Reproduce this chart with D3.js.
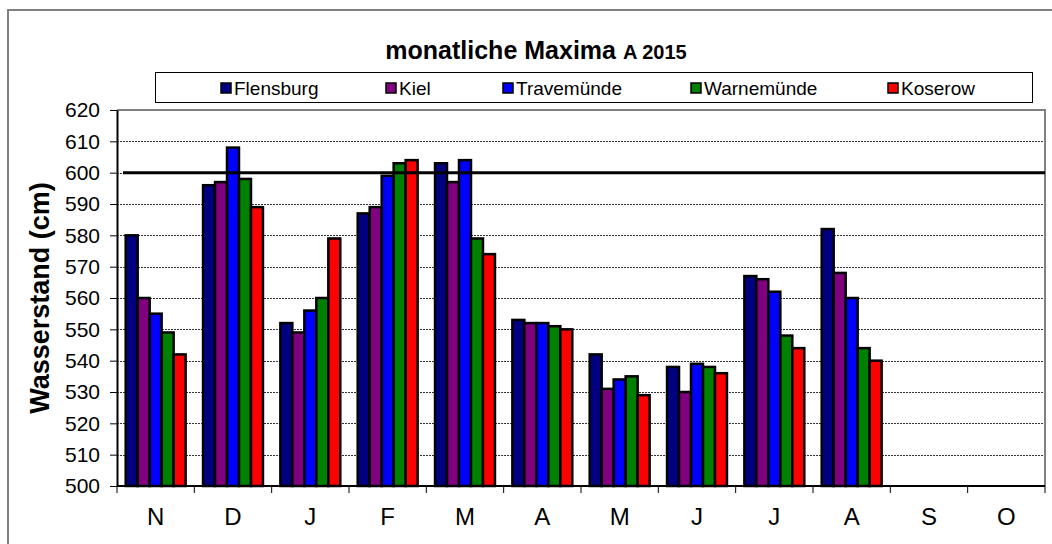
<!DOCTYPE html>
<html>
<head>
<meta charset="utf-8">
<script src="https://cdn.jsdelivr.net/npm/d3@7"></script>
<style>
  body { margin: 0; background: #fff; }
  svg { font-family: "Liberation Sans", Arial, sans-serif; }
</style>
</head>
<body>
<svg id="chart" width="1052" height="544"></svg>
<script>
//data
var months = ["N", "D", "J", "F", "M", "A", "M", "J", "J", "A", "S", "O"];
var stations = ["Flensburg", "Kiel", "Travemünde", "Warnemünde", "Koserow"];
var colors = ["#000080", "#800080", "#0000ff", "#008000", "#ff0000"];
var flensburg  = [580, 596, 552, 587, 603, 553, 542, 538, 567, 582, null, null];
var kiel       = [560, 597, 549, 589, 597, 552, 531, 530, 566, 568, null, null];
var travemunde = [555, 608, 556, 599, 604, 552, 534, 539, 562, 560, null, null];
var warnemunde = [549, 598, 560, 603, 579, 551, 535, 538, 548, 544, null, null];
var koserow    = [542, 589, 579, 604, 574, 550, 529, 536, 544, 540, null, null];
var yTicks = [500, 510, 520, 530, 540, 550, 560, 570, 580, 590, 600, 610, 620];
var markLevel = 600;

var series = [flensburg, kiel, travemunde, warnemunde, koserow];

//plot area
var plot = {left: 117, right: 1045, top: 110, bottom: 486};

var svg = d3.select("#chart");

//outer chart border
svg.append("path")
	.attr("d", "M8,560 L8,10 L1060,10")
	.attr("fill", "none")
	.attr("stroke", "#808080")
	.attr("stroke-width", 2);

var x = d3.scaleBand()
	.domain(d3.range(months.length))
	.range([plot.left, plot.right])
	.paddingInner(0.225)
	.paddingOuter(0.1125);

var xCat = d3.scaleBand()
	.domain(d3.range(months.length))
	.range([plot.left, plot.right]);

var xSub = d3.scaleBand()
	.domain(d3.range(stations.length))
	.range([0, x.bandwidth()]);

var y = d3.scaleLinear()
	.domain([500, 620])
	.range([plot.bottom, plot.top]);

//gridlines
svg.append("g")
	.selectAll("line")
	.data(yTicks.slice(1, -1))
	.enter()
	.append("line")
	.attr("x1", plot.left)
	.attr("x2", plot.right)
	.attr("y1", function(d) { return Math.round(y(d)) + 0.5; })
	.attr("y2", function(d) { return Math.round(y(d)) + 0.5; })
	.attr("stroke", "#333")
	.attr("stroke-width", 1)
	.attr("stroke-dasharray", "2,1");

//plot area border (gray top and right)
svg.append("path")
	.attr("d", "M" + plot.left + "," + plot.top + " L" + plot.right + "," + plot.top + " L" + plot.right + "," + plot.bottom)
	.attr("fill", "none")
	.attr("stroke", "#808080")
	.attr("stroke-width", 2);

//bars
var groups = svg.append("g")
	.selectAll("g")
	.data(series)
	.enter()
	.append("g")
	.attr("fill", function(d, i) { return colors[i]; });

groups.each(function(vals, s) {
	d3.select(this).selectAll("rect")
		.data(vals.map(function(v, m) { return {v: v, m: m}; }).filter(function(d) { return d.v != null; }))
		.enter()
		.append("rect")
		.attr("x", function(d) { return x(d.m) + xSub(s); })
		.attr("width", xSub.bandwidth())
		.attr("y", function(d) { return y(d.v); })
		.attr("height", function(d) { return y(500) - y(d.v); })
		.attr("stroke", "#000")
		.attr("stroke-width", 2.5);
});

//600 cm mark
svg.append("line")
	.attr("x1", plot.left + 6)
	.attr("x2", plot.right)
	.attr("y1", y(markLevel))
	.attr("y2", y(markLevel))
	.attr("stroke", "#000")
	.attr("stroke-width", 3);

//y axis
var yAxis = d3.axisLeft(y)
	.tickValues(yTicks)
	.tickSize(7)
	.tickPadding(10)
	.tickSizeOuter(0);

var gy = svg.append("g")
	.attr("transform", "translate(" + plot.left + ",0)")
	.call(yAxis);
gy.select(".domain").attr("stroke", "#000").attr("stroke-width", 2);
gy.selectAll("text").attr("font-size", 21).attr("fill", "#000")
	.attr("font-family", "Liberation Sans, Arial, sans-serif");

//x axis
var gx = svg.append("g")
	.attr("transform", "translate(0," + plot.bottom + ")");
gx.append("line")
	.attr("x1", plot.left)
	.attr("x2", plot.right)
	.attr("stroke", "#000")
	.attr("stroke-width", 2);
gx.selectAll("line.tick")
	.data(d3.range(months.length + 1))
	.enter()
	.append("line")
	.attr("class", "tick")
	.attr("x1", function(d) { return plot.left + d * xCat.step(); })
	.attr("x2", function(d) { return plot.left + d * xCat.step(); })
	.attr("y1", 0)
	.attr("y2", 7)
	.attr("stroke", "#000")
	.attr("stroke-width", 1);
gx.selectAll("text")
	.data(months)
	.enter()
	.append("text")
	.attr("x", function(d, i) { return xCat(i) + xCat.bandwidth() / 2; })
	.attr("y", 39)
	.attr("text-anchor", "middle")
	.attr("font-size", 24)
	.text(function(d) { return d; });

//axis title
svg.append("text")
	.attr("transform", "translate(49," + ((plot.top + plot.bottom) / 2) + ") rotate(-90)")
	.attr("text-anchor", "middle")
	.attr("font-size", 27)
	.attr("font-weight", "bold")
	.text("Wasserstand (cm)");

//chart title
var title = svg.append("text")
	.attr("x", 536)
	.attr("y", 59)
	.attr("text-anchor", "middle")
	.attr("font-weight", "bold");
title.append("tspan").attr("font-size", 25).text("monatliche Maxima ");
title.append("tspan").attr("font-size", 20).text("A 2015");

//legend
svg.append("rect")
	.attr("x", 155.5)
	.attr("y", 72.5)
	.attr("width", 877)
	.attr("height", 30)
	.attr("fill", "#fff")
	.attr("stroke", "#000")
	.attr("stroke-width", 1);

var legendX = [221, 386, 503, 691, 888];
var items = svg.append("g")
	.selectAll("g")
	.data(stations)
	.enter()
	.append("g")
	.attr("transform", function(d, i) { return "translate(" + legendX[i] + ",88)"; });
items.append("rect")
	.attr("x", 0)
	.attr("y", -5)
	.attr("width", 10)
	.attr("height", 10)
	.attr("fill", function(d, i) { return colors[i]; })
	.attr("stroke", "#000")
	.attr("stroke-width", 1.5);
items.append("text")
	.attr("x", 13)
	.attr("y", 7)
	.attr("font-size", 19)
	.text(function(d) { return d; });
</script>
</body>
</html>
